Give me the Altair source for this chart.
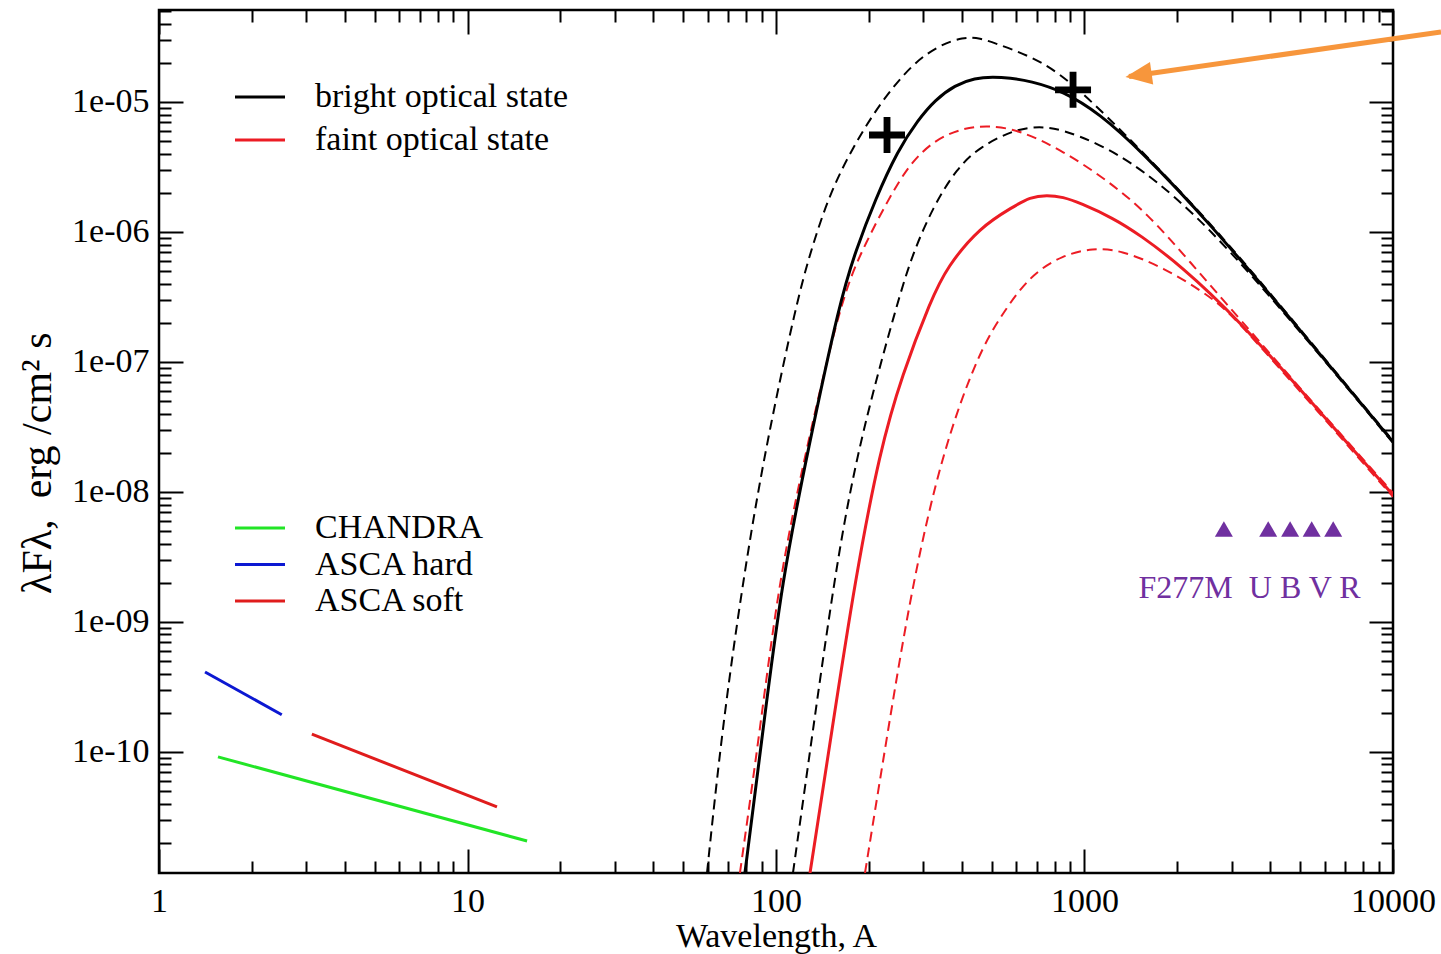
import altair as alt
import pandas as pd

# ---- disc model spectra: wavelength (Å) and λFλ (erg/cm²/s) ----
bright_lam = [79.3, 90.77, 104.6, 126.9, 161.3, 181.7, 209.4, 248.6, 288.6, 327.6,
              380.3, 441.6, 505.1, 573.5, 665.9, 851.7, 1122.6, 1513, 2496, 4995, 10000]
bright_flux = [1.17e-11, 1.476e-10, 2.10e-9, 2.10e-8, 3.00e-7, 7.27e-7, 1.762e-6,
               4.27e-6, 7.27e-6, 1.036e-5, 1.351e-5, 1.529e-5, 1.557e-5, 1.529e-5,
               1.451e-5, 1.215e-5, 8.09e-6, 4.27e-6, 1.237e-6, 1.762e-7, 2.43e-8]

bright_hot_lam = [59.75, 66.83, 78.16, 92.1, 117.0, 130.8, 149.6, 177.7, 217.3, 278.0,
                  340.1, 403.8, 458.4, 520.5, 680.8, 877.6, 1294, 2496, 4995, 10000]
bright_hot_flux = [1.17e-11, 1.476e-10, 2.10e-9, 2.10e-8, 3.00e-7, 7.66e-7, 1.995e-6,
                   4.51e-6, 9.82e-6, 1.995e-5, 2.745e-5, 3.16e-5, 3.107e-5, 2.794e-5,
                   2.219e-5, 1.529e-5, 6.31e-6, 1.281e-6, 1.795e-7, 2.47e-8]

bright_cool_lam = [113.5, 131.8, 154.2, 183.0, 248.6, 278.0, 322.8, 386.1, 458.4, 586.4,
                   717.5, 851.7, 1098, 1513, 2496, 4995, 10000]
bright_cool_flux = [1.17e-11, 1.476e-10, 2.10e-9, 2.10e-8, 3.00e-7, 6.89e-7, 1.557e-6,
                    3.107e-6, 4.51e-6, 6.09e-6, 6.54e-6, 6.09e-6, 4.84e-6, 3.16e-6,
                    1.152e-6, 1.732e-7, 2.38e-8]

faint_lam = [128.9, 151.9, 180.4, 217.3, 256.1, 318.0, 358.4, 458.4, 586.4, 665.9,
             755.8, 851.7, 967, 1237, 1513, 2040, 3121, 5504, 10000]
faint_flux = [1.17e-11, 1.476e-10, 2.10e-9, 2.10e-8, 7.94e-8, 3.00e-7, 5.38e-7,
              1.092e-6, 1.557e-6, 1.858e-6, 1.926e-6, 1.858e-6, 1.671e-6, 1.281e-6,
              9.48e-7, 5.57e-7, 2.18e-7, 4.75e-8, 9.48e-9]

faint_hot_lam = [76.4, 88.75, 102.2, 125.1, 162.4, 190.0, 230.7, 271.9, 327.6, 394.9,
                 483.1, 618.0, 851.7, 1183, 1594, 2198, 3121, 5504, 10000]
faint_hot_flux = [1.17e-11, 1.476e-10, 2.10e-9, 2.10e-8, 3.00e-7, 7.27e-7, 1.762e-6,
                  3.395e-6, 5.10e-6, 6.20e-6, 6.65e-6, 6.09e-6, 4.20e-6, 2.51e-6,
                  1.40e-6, 5.88e-7, 2.26e-7, 4.84e-8, 9.82e-9]

faint_cool_lam = [194.3, 230.7, 278.0, 347.8, 448.2, 532.3, 665.9, 851.7, 1066, 1304,
                  1797, 2610, 3121, 5504, 10000]
faint_cool_flux = [1.17e-11, 1.476e-10, 2.10e-9, 2.10e-8, 1.093e-7, 2.22e-7, 4.67e-7,
                   6.65e-7, 7.53e-7, 7.27e-7, 5.38e-7, 3.107e-7, 2.10e-7, 4.59e-8,
                   9.15e-9]

# ---- X-ray power laws ----
chandra_lam = [1.553, 15.6]
chandra_flux = [9.16e-11, 2.06e-11]
asca_hard_lam = [1.41, 2.50]
asca_hard_flux = [4.12e-10, 1.93e-10]
asca_soft_lam = [3.13, 12.46]
asca_soft_flux = [1.37e-10, 3.77e-11]

# ---- optical / UV photometry ----
phot_lam = [2830, 3940, 4640, 5450, 6400]
phot_flux = [5.19e-9, 5.19e-9, 5.19e-9, 5.19e-9, 5.19e-9]
phot_label = "F277M\u00a0\u00a0U B V R"
phot_label_lam = 3427
phot_label_flux = 1.81e-9

# ---- EUV measurements ----
euv_lam = [229, 918]
euv_flux = [5.57e-6, 1.24e-5]

# ---- annotation arrow (tail, tip) ----
arrow_lam = [14310, 1394]
arrow_flux = [3.46e-5, 1.57e-5]

# ---- axes ----
X_DOMAIN = [1, 10000]
Y_DOMAIN = [1.17e-11, 5.1e-5]
x_major = [1, 10, 100, 1000, 10000]
x_minor = [m * 10 ** k for k in range(4) for m in range(2, 10)]
y_major = [1e-10, 1e-9, 1e-8, 1e-7, 1e-6, 1e-5]
y_minor = [v for v in (m * 10.0 ** k for k in range(-12, -4) for m in range(2, 10))
           if Y_DOMAIN[0] <= v <= Y_DOMAIN[1]]

STATES = ["bright optical state", "faint optical state"]
STATE_COLORS = ["#000000", "#ec1c24"]
XRAY = ["CHANDRA", "ASCA hard", "ASCA soft"]
XRAY_COLORS = ["#22e526", "#0c18d2", "#e01c1c"]
PURPLE = "#7030a0"
ORANGE = "#f7963c"
FONT = "Liberation Serif"

W, H = 1234, 863


def curve_frame(state, model, lam, flux):
    return pd.DataFrame({"state": state, "model": model, "lam": lam, "flux": flux})


solid_df = pd.concat([
    curve_frame(STATES[0], "fit", bright_lam, bright_flux),
    curve_frame(STATES[1], "fit", faint_lam, faint_flux),
])
bright_dashed_df = pd.concat([
    curve_frame(STATES[0], "hot", bright_hot_lam, bright_hot_flux),
    curve_frame(STATES[0], "cool", bright_cool_lam, bright_cool_flux),
])
faint_dashed_df = pd.concat([
    curve_frame(STATES[1], "hot", faint_hot_lam, faint_hot_flux),
    curve_frame(STATES[1], "cool", faint_cool_lam, faint_cool_flux),
])
xray_df = pd.concat([
    pd.DataFrame({"inst": XRAY[0], "lam": chandra_lam, "flux": chandra_flux}),
    pd.DataFrame({"inst": XRAY[1], "lam": asca_hard_lam, "flux": asca_hard_flux}),
    pd.DataFrame({"inst": XRAY[2], "lam": asca_soft_lam, "flux": asca_soft_flux}),
])
phot_df = pd.DataFrame({"lam": phot_lam, "flux": phot_flux})
label_df = pd.DataFrame({"lam": [phot_label_lam], "flux": [phot_label_flux], "text": [phot_label]})
euv_df = pd.DataFrame({"lam": euv_lam, "flux": euv_flux})
shaft_df = pd.DataFrame({"lam": [arrow_lam[0]], "flux": [arrow_flux[0]],
                         "lam2": [arrow_lam[1]], "flux2": [arrow_flux[1]]})
head_df = pd.DataFrame({"lam": [arrow_lam[1]], "flux": [arrow_flux[1]]})

x_scale = alt.Scale(type="log", domain=X_DOMAIN, nice=False)
y_scale = alt.Scale(type="log", domain=Y_DOMAIN, nice=False)


def tick_axis(orient, values, size, offset):
    # tick-only axis; negative offset moves it to the opposite edge so ticks point inward
    return alt.Axis(orient=orient, values=values, offset=offset, labels=False, domain=False,
                    grid=False, ticks=True, tickSize=size, tickWidth=2, tickColor="black",
                    title=None)


def xy(x_axis, y_axis):
    return dict(
        x=alt.X("lam:Q", scale=x_scale, axis=x_axis),
        y=alt.Y("flux:Q", scale=y_scale, axis=y_axis),
    )


x_label_axis = alt.Axis(
    orient="bottom", values=x_major, format="d", ticks=False, tickSize=0, domain=False,
    grid=False, labelFont=FONT, labelFontSize=34, labelColor="black", labelPadding=11,
    labelFlush=False, labelOverlap=False,
    title="Wavelength, A", titleFont=FONT, titleFontSize=34, titleFontWeight="normal",
    titleColor="black", titleBaseline="alphabetic", titleY=73,
)
y_label_axis = alt.Axis(
    orient="left", values=y_major, ticks=False, tickSize=0, domain=False, grid=False,
    labelExpr="(round(-log(datum.value)/LN10) < 10 ? '1e-0' : '1e-') + round(-log(datum.value)/LN10)",
    labelFont=FONT, labelFontSize=34, labelColor="black", labelPadding=10,
    labelFlush=False, labelOverlap=False,
    title="λFλ,\u00a0 erg /cm² s", titleFont=FONT, titleFontSize=42,
    titleFontWeight="normal", titleColor="black", titleAngle=270, titleAlign="right",
    titleBaseline="middle", titleX=-122, titleY=322,
)

legend_symbol = "M-2.5,0H2.5"


def line_legend(y, row_padding):
    return alt.Legend(
        orient="none", legendX=84, legendY=y, title=None, padding=0,
        symbolType=legend_symbol, symbolSize=400, symbolStrokeWidth=3,
        labelFont=FONT, labelFontSize=34, labelColor="black", labelOffset=38,
        labelLimit=600, rowPadding=row_padding,
    )


# B-spline smoothing keeps the model curves free of corners
CURVE = "basis"

solid = alt.Chart(solid_df).mark_line(
    strokeWidth=3, interpolate=CURVE, clip=True
).encode(
    **xy(x_label_axis, y_label_axis),
    stroke=alt.Stroke("state:N", scale=alt.Scale(domain=STATES, range=STATE_COLORS),
                      legend=line_legend(70, 9)),
    detail="model:N",
)

bright_dashed = alt.Chart(bright_dashed_df).mark_line(
    strokeWidth=2, strokeDash=[10, 6], interpolate=CURVE, clip=True,
    color=STATE_COLORS[0],
).encode(
    **xy(tick_axis("top", x_major, 24, -H), tick_axis("right", y_major, 24, -W)),
    detail="model:N",
)

faint_dashed = alt.Chart(faint_dashed_df).mark_line(
    strokeWidth=2, strokeDash=[10, 6], interpolate=CURVE, clip=True,
    color=STATE_COLORS[1],
).encode(
    **xy(tick_axis("top", x_minor, 12, -H), tick_axis("right", y_minor, 12, -W)),
    detail="model:N",
)

xray = alt.Chart(xray_df).mark_line(strokeWidth=3).encode(
    **xy(tick_axis("bottom", x_major, 24, -H), tick_axis("left", y_major, 24, -W)),
    color=alt.Color("inst:N", scale=alt.Scale(domain=XRAY, range=XRAY_COLORS),
                    legend=line_legend(501, 2.5)),
)

phot = alt.Chart(phot_df).mark_point(
    shape="triangle-up", filled=True, size=324, color=PURPLE, opacity=1
).encode(
    **xy(tick_axis("bottom", x_minor, 12, -H), tick_axis("left", y_minor, 12, -W)),
)

euv = alt.Chart(euv_df).mark_point(
    shape="M-1,-0.19H1V0.19H-1Z M-0.19,-1H0.19V1H-0.19Z",
    filled=True, size=1296, color="black", opacity=1,
).encode(
    x=alt.X("lam:Q", scale=x_scale, axis=None),
    y=alt.Y("flux:Q", scale=y_scale, axis=None),
)

phot_text = alt.Chart(label_df).mark_text(
    font=FONT, fontSize=32, color=PURPLE, align="center", baseline="middle"
).encode(
    x=alt.X("lam:Q", scale=x_scale, axis=None),
    y=alt.Y("flux:Q", scale=y_scale, axis=None),
    text="text:N",
)

shaft = alt.Chart(shaft_df).mark_rule(
    color=ORANGE, strokeWidth=5, clip=False
).encode(
    x=alt.X("lam:Q", scale=x_scale, axis=None),
    y=alt.Y("flux:Q", scale=y_scale, axis=None),
    x2="lam2:Q",
    y2="flux2:Q",
)

head = alt.Chart(head_df).mark_point(
    shape="M-0.3,0L1.9,-0.95L1.9,0.95Z", filled=True, size=576, color=ORANGE,
    opacity=1, angle=352, clip=False,
).encode(
    x=alt.X("lam:Q", scale=x_scale, axis=None),
    y=alt.Y("flux:Q", scale=y_scale, axis=None),
)

chart = alt.layer(
    bright_dashed, faint_dashed, solid, xray, phot, euv, phot_text, shaft, head
).resolve_axis(
    x="independent", y="independent"
).properties(
    width=W, height=H,
    autosize=alt.AutoSizeParams(type="none"),
    padding={"left": 159, "top": 10, "right": 48, "bottom": 81},
    background="white",
).configure_view(
    stroke="black", strokeWidth=2.5
)

chart.save("out.html", embed_options={"renderer": "svg", "actions": False})
